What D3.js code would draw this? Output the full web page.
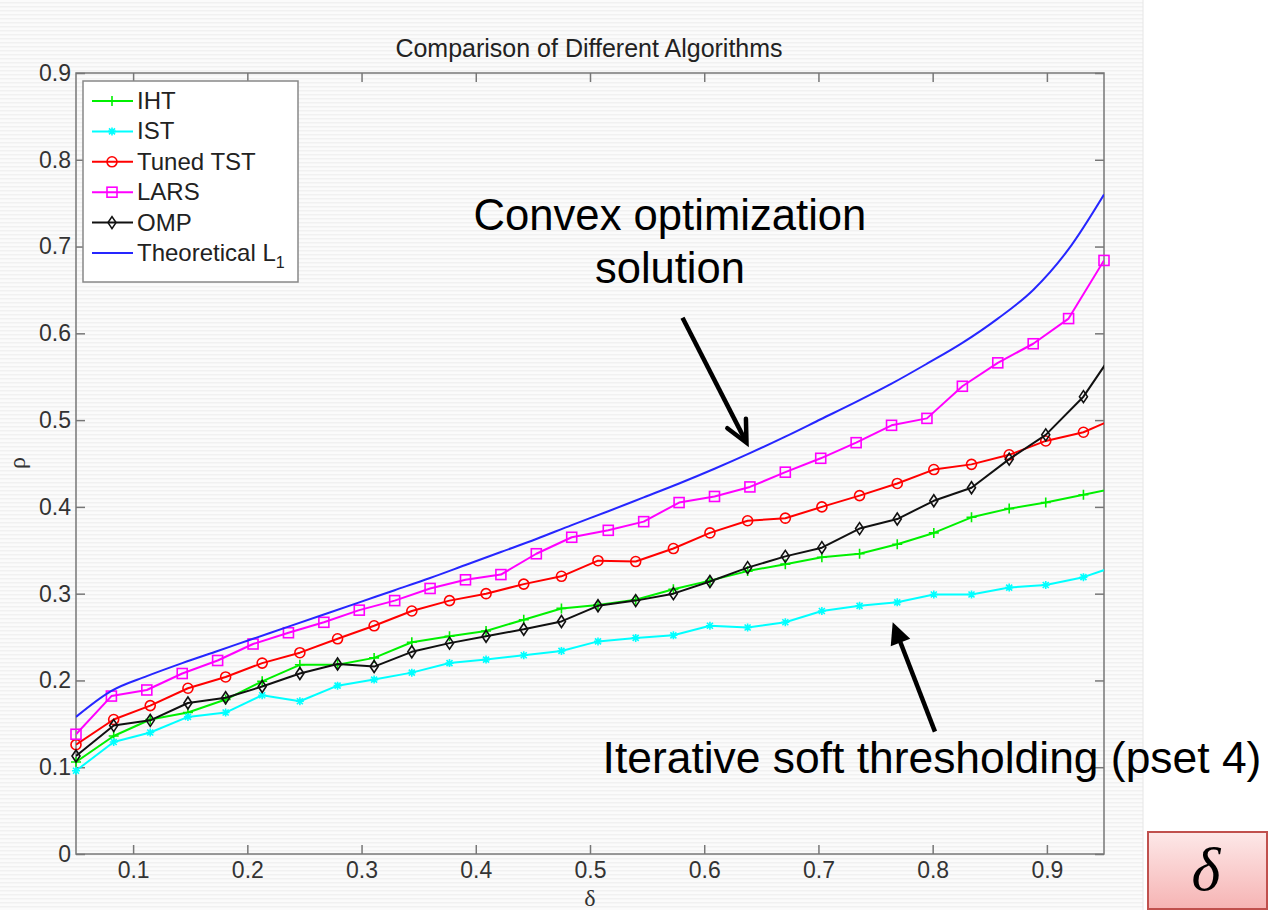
<!DOCTYPE html>
<html>
<head>
<meta charset="utf-8">
<script src="https://cdn.jsdelivr.net/npm/d3@7"></script>
<style>
  body { margin: 0; background: #fff; }
  text { font-family: "Liberation Sans", Arial, sans-serif; }
</style>
</head>
<body>
<script>
var width = 1268,
    height = 910;

// sampling grid of the LARS run and of the Donoho-Tanner curve
var deltaLars = [0.050, 0.081, 0.112, 0.143, 0.174, 0.205, 0.236, 0.267, 0.298, 0.329,
                 0.360, 0.391, 0.422, 0.453, 0.484, 0.516, 0.547, 0.578, 0.609, 0.640,
                 0.671, 0.702, 0.733, 0.764, 0.795, 0.826, 0.857, 0.888, 0.919, 0.950];
// sampling grid of the other algorithms (last point lies past the axis and gets clipped)
var deltaGrid = [0.050, 0.083, 0.115, 0.148, 0.181, 0.213, 0.246, 0.279, 0.311, 0.344,
                 0.377, 0.409, 0.442, 0.475, 0.507, 0.540, 0.573, 0.605, 0.638, 0.671,
                 0.703, 0.736, 0.769, 0.801, 0.834, 0.867, 0.899, 0.932, 0.965];

var iht      = [0.106, 0.136, 0.155, 0.163, 0.178, 0.199, 0.218, 0.218, 0.226, 0.244,
                0.251, 0.257, 0.270, 0.283, 0.287, 0.293, 0.305, 0.315, 0.326, 0.334,
                0.342, 0.346, 0.357, 0.370, 0.388, 0.398, 0.405, 0.414, 0.423];
var ist      = [0.096, 0.129, 0.140, 0.158, 0.163, 0.183, 0.176, 0.194, 0.201, 0.209,
                0.220, 0.224, 0.229, 0.234, 0.245, 0.249, 0.252, 0.263, 0.261, 0.267,
                0.280, 0.286, 0.290, 0.299, 0.299, 0.307, 0.310, 0.319, 0.334];
var tunedTst = [0.126, 0.155, 0.171, 0.191, 0.204, 0.220, 0.232, 0.248, 0.263, 0.280,
                0.292, 0.300, 0.311, 0.320, 0.338, 0.337, 0.352, 0.370, 0.384, 0.387,
                0.400, 0.413, 0.427, 0.443, 0.449, 0.460, 0.476, 0.486, 0.505];
var lars     = [0.138, 0.182, 0.189, 0.208, 0.223, 0.242, 0.255, 0.267, 0.281, 0.292,
                0.306, 0.316, 0.322, 0.346, 0.365, 0.373, 0.383, 0.405, 0.412, 0.423,
                0.440, 0.456, 0.474, 0.494, 0.502, 0.539, 0.566, 0.588, 0.617, 0.684];
var omp      = [0.113, 0.148, 0.154, 0.174, 0.180, 0.193, 0.208, 0.219, 0.216, 0.233,
                0.243, 0.251, 0.259, 0.268, 0.286, 0.292, 0.300, 0.314, 0.330, 0.343,
                0.353, 0.375, 0.386, 0.407, 0.422, 0.455, 0.483, 0.527, 0.591];
var theoretical = [0.158, 0.188, 0.205, 0.220, 0.234, 0.248, 0.262, 0.276, 0.290, 0.304,
                   0.318, 0.333, 0.348, 0.363, 0.379, 0.395, 0.411, 0.427, 0.444, 0.462,
                   0.481, 0.501, 0.521, 0.542, 0.565, 0.589, 0.617, 0.650, 0.697, 0.760];

var seriesNames = ["IHT", "IST", "Tuned TST", "LARS", "OMP", "Theoretical L"];
var xTicks = [0.1, 0.2, 0.3, 0.4, 0.5, 0.6, 0.7, 0.8, 0.9];
var yTicks = [0, 0.1, 0.2, 0.3, 0.4, 0.5, 0.6, 0.7, 0.8, 0.9];

var series = [
  {name: seriesNames[0], xs: deltaGrid, ys: iht,         color: "#00f000", marker: "plus"},
  {name: seriesNames[1], xs: deltaGrid, ys: ist,         color: "#00ffff", marker: "star"},
  {name: seriesNames[2], xs: deltaGrid, ys: tunedTst,    color: "#ff0000", marker: "circle"},
  {name: seriesNames[3], xs: deltaLars, ys: lars,        color: "#ff00ff", marker: "square"},
  {name: seriesNames[4], xs: deltaGrid, ys: omp,         color: "#111111", marker: "diamond"},
  {name: seriesNames[5], xs: deltaLars, ys: theoretical, color: "#2626ff", marker: "none"}
];

var svg = d3.select("body").append("svg")
    .attr("width", width)
    .attr("height", height);

var defs = svg.append("defs");
//faint scan lines of the screen grab
var pat = defs.append("pattern").attr("id", "stripes")
    .attr("width", 8).attr("height", 4).attr("patternUnits", "userSpaceOnUse");
pat.append("rect").attr("width", 8).attr("height", 4).attr("fill", "#fbfbfb");
pat.append("rect").attr("y", 2).attr("width", 8).attr("height", 1.5).attr("fill", "#f1f1f1");

defs.append("clipPath").attr("id", "plotclip")
  .append("rect").attr("x", 76).attr("y", 73).attr("width", 1028).attr("height", 781);

var grad = defs.append("linearGradient").attr("id", "pinkbox")
    .attr("x1", 0).attr("y1", 0).attr("x2", 0).attr("y2", 1);
grad.append("stop").attr("offset", "0%").attr("stop-color", "#fde8e8");
grad.append("stop").attr("offset", "100%").attr("stop-color", "#f6b4b4");

svg.append("rect").attr("width", 1143).attr("height", height).attr("fill", "url(#stripes)");
svg.append("line").attr("x1", 1143).attr("x2", 1143).attr("y1", 0).attr("y2", height)
    .attr("stroke", "#e6e6e6");

var x = d3.scaleLinear().domain([0.05, 0.95]).range([76, 1104]);
var y = d3.scaleLinear().domain([0, 0.9]).range([854, 73]);

var fmt = function(d){ return d === 0 ? "0" : d3.format(".1f")(d); };

//axes, ticks pointing inward like matlab
var axisColor = "#777";
function styleAxis(g){
  g.select(".domain").remove();
  g.selectAll(".tick line").attr("stroke", axisColor).attr("stroke-width", 1.5);
  g.selectAll(".tick text").attr("fill", "#333").style("font-size", "23px");
}
svg.append("g").attr("transform", "translate(0,854)")
  .call(d3.axisBottom(x).tickValues(xTicks).tickSize(-9).tickPadding(8).tickFormat(fmt))
  .call(styleAxis);
svg.append("g").attr("transform", "translate(0,73)")
  .call(d3.axisTop(x).tickValues(xTicks).tickSize(-9).tickFormat(""))
  .call(styleAxis);
svg.append("g").attr("transform", "translate(76,0)")
  .call(d3.axisLeft(y).tickValues(yTicks).tickSize(-9).tickPadding(5).tickFormat(fmt))
  .call(styleAxis);
svg.append("g").attr("transform", "translate(1104,0)")
  .call(d3.axisRight(y).tickValues(yTicks).tickSize(-9).tickFormat(""))
  .call(styleAxis);
svg.append("rect").attr("x", 76).attr("y", 73).attr("width", 1028).attr("height", 781)
    .attr("fill", "none").attr("stroke", axisColor).attr("stroke-width", 1.5);

svg.append("text").attr("x", 589).attr("y", 57).attr("text-anchor", "middle")
    .style("font-size", "25px").attr("fill", "#222").text("Comparison of Different Algorithms");
svg.append("text").attr("x", 590).attr("y", 906).attr("text-anchor", "middle")
    .style("font-family", "'Liberation Serif', serif").style("font-size", "24px")
    .attr("fill", "#333").text("δ");
svg.append("text").attr("transform", "translate(25,463) rotate(-90)").attr("text-anchor", "middle")
    .style("font-family", "'Liberation Serif', serif").style("font-size", "24px")
    .attr("fill", "#333").text("ρ");

//marker shapes
function drawMarker(g, type, color){
  if(type == "plus"){
    g.append("path").attr("d", "M-5,0H5M0,-5V5");
  } else if(type == "star"){
    g.append("path").attr("d", "M-4,0H4M0,-4V4M-3,-3L3,3M-3,3L3,-3");
  } else if(type == "circle"){
    g.append("circle").attr("r", 5);
  } else if(type == "square"){
    g.append("rect").attr("x", -5).attr("y", -5).attr("width", 10).attr("height", 10);
  } else if(type == "diamond"){
    g.append("path").attr("d", "M0,-6L4,0L0,6L-4,0Z");
  }
  g.attr("fill", "none").attr("stroke", color).attr("stroke-width", 1.6);
}

var line = d3.line().x(function(d){return x(d[0]);}).y(function(d){return y(d[1]);});
//the theoretical curve is a smooth function, the measured ones are piecewise linear
var smoothLine = d3.line().curve(d3.curveMonotoneX).x(function(d){return x(d[0]);}).y(function(d){return y(d[1]);});

var plot = svg.append("g");
series.forEach(function(s){
  var pts = s.xs.map(function(d, i){ return [d, s.ys[i]]; });
  plot.append("path").datum(pts)
    .attr("clip-path", "url(#plotclip)")
    .attr("fill", "none")
    .attr("stroke", s.color)
    .attr("stroke-width", 2)
    .attr("stroke-linejoin", "round")
    .attr("d", s.marker == "none" ? smoothLine : line);
  if(s.marker != "none"){
    pts.filter(function(d){ return d[0] <= 0.95; }).forEach(function(d){
      var m = plot.append("g").attr("transform", "translate(" + x(d[0]) + "," + y(d[1]) + ")");
      drawMarker(m, s.marker, s.color);
    });
  }
});

//legend
var legend = svg.append("g");
legend.append("rect").attr("x", 83).attr("y", 81).attr("width", 215).attr("height", 201)
    .attr("fill", "#fff").attr("stroke", "#888").attr("stroke-width", 1.5);
series.forEach(function(s, i){
  var ly = 101 + i * 30.4;
  legend.append("line").attr("x1", 92).attr("x2", 133).attr("y1", ly).attr("y2", ly)
      .attr("stroke", s.color).attr("stroke-width", 2);
  if(s.marker != "none"){
    drawMarker(legend.append("g").attr("transform", "translate(112," + ly + ")"), s.marker, s.color);
  }
  var t = legend.append("text").attr("x", 137).attr("y", ly + 8)
      .style("font-size", "24px").attr("fill", "#222").text(s.name);
  if(i == 5){
    t.append("tspan").attr("dy", 7).style("font-size", "16px").text("1");
  }
});

//slide annotations
var anno = svg.append("g").style("font-family", "Lato, 'Open Sans', sans-serif").attr("fill", "#000");
function fitText(sel, target){
  var w = sel.node().getComputedTextLength();
  sel.style("font-size", (36 * target / w) + "px");
}
fitText(anno.append("text").attr("x", x(0.570)).attr("y", y(0.719)).attr("text-anchor", "middle")
    .style("font-size", "36px").text("Convex optimization"), 393);
fitText(anno.append("text").attr("x", x(0.570)).attr("y", y(0.658)).attr("text-anchor", "middle")
    .style("font-size", "36px").text("solution"), 150);
fitText(anno.append("text").attr("x", x(0.511)).attr("y", y(0.093))
    .style("font-size", "36px").text("Iterative soft thresholding  (pset 4)"), 659);

function arrow(x0, y0, x1, y1, filled){
  var a = Math.atan2(y1 - y0, x1 - x0), len = 24, spread = 0.45;
  var p1 = [x1 - len * Math.cos(a - spread), y1 - len * Math.sin(a - spread)];
  var p2 = [x1 - len * Math.cos(a + spread), y1 - len * Math.sin(a + spread)];
  anno.append("line").attr("x1", x0).attr("y1", y0)
      .attr("x2", x1 - (filled ? 12 : 2) * Math.cos(a)).attr("y2", y1 - (filled ? 12 : 2) * Math.sin(a))
      .attr("stroke", "#000").attr("stroke-width", 4.5);
  if(filled){
    anno.append("path").attr("d", "M" + p1 + "L" + [x1, y1] + "L" + p2 + "Z").attr("fill", "#000");
  } else {
    anno.append("path").attr("d", "M" + p1 + "L" + [x1, y1] + "L" + p2)
        .attr("fill", "none").attr("stroke", "#000").attr("stroke-width", 4.5)
        .attr("stroke-linecap", "round").attr("stroke-linejoin", "miter");
  }
}
arrow(x(0.581), y(0.618), x(0.637), y(0.474), false);
arrow(x(0.802), y(0.141), x(0.765), y(0.267), true);

//delta box in the corner of the slide
svg.append("rect").attr("x", 1148).attr("y", 832).attr("width", 119).attr("height", 77)
    .attr("fill", "url(#pinkbox)").attr("stroke", "#c0504d").attr("stroke-width", 2);
svg.append("text").attr("x", 1206).attr("y", 890).attr("text-anchor", "middle")
    .style("font-family", "'Liberation Serif', 'DejaVu Serif', serif").style("font-style", "italic")
    .style("font-size", "62px").attr("fill", "#000").text("δ");
</script>
</body>
</html>
